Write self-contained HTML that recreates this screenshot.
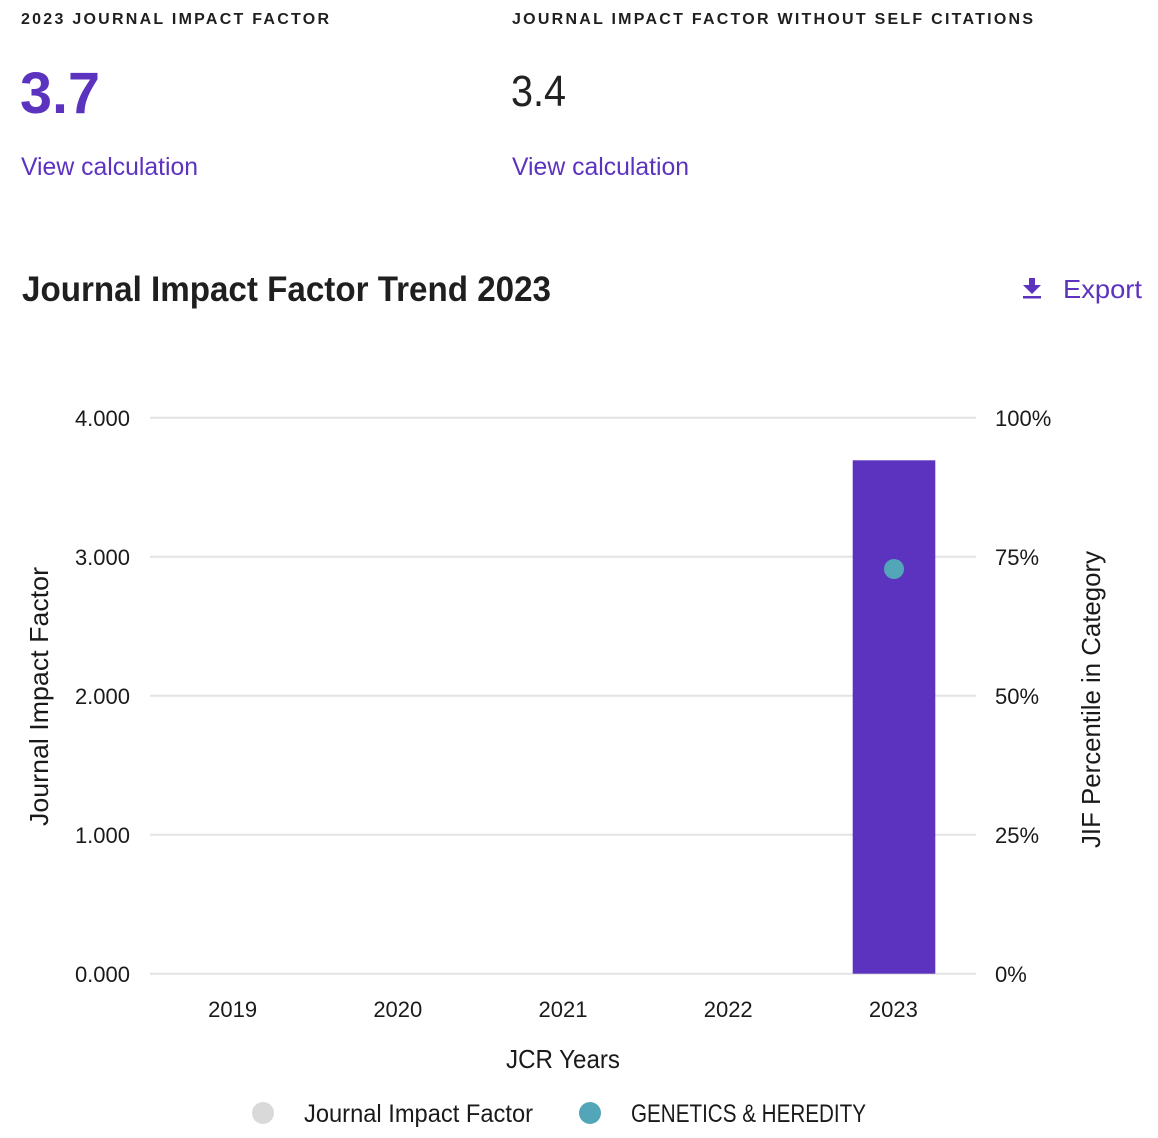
<!DOCTYPE html>
<html>
<head>
<meta charset="utf-8">
<style>
  html, body { margin: 0; padding: 0; background: #ffffff; }
  body { width: 1158px; height: 1138px; overflow: hidden; }
  svg { display: block; }
  text { font-family: "Liberation Sans", "DejaVu Sans", sans-serif; }
</style>
</head>
<body>
<svg width="1158" height="1138" viewBox="0 0 1158 1138" xmlns="http://www.w3.org/2000/svg">
  <rect x="0" y="0" width="1158" height="1138" fill="#ffffff"/>

  <!-- Header metrics -->
  <text x="21" y="24" font-size="16" font-weight="bold" fill="#1f1f1f" textLength="308" lengthAdjust="spacing">2023 JOURNAL IMPACT FACTOR</text>
  <text x="512" y="24" font-size="16" font-weight="bold" fill="#1f1f1f" textLength="521" lengthAdjust="spacing">JOURNAL IMPACT FACTOR WITHOUT SELF CITATIONS</text>

  <text x="20" y="113" font-size="58" font-weight="bold" fill="#5c33bf" textLength="80" lengthAdjust="spacingAndGlyphs">3.7</text>
  <text x="511" y="106" font-size="44" fill="#222222" textLength="55" lengthAdjust="spacingAndGlyphs">3.4</text>

  <text x="21" y="175" font-size="25" fill="#5c33bf" textLength="177" lengthAdjust="spacingAndGlyphs">View calculation</text>
  <text x="512" y="175" font-size="25" fill="#5c33bf" textLength="177" lengthAdjust="spacingAndGlyphs">View calculation</text>

  <!-- Title -->
  <text x="22" y="301" font-size="35" font-weight="bold" fill="#1f1f1f" textLength="529" lengthAdjust="spacingAndGlyphs">Journal Impact Factor Trend 2023</text>

  <!-- Export -->
  <g fill="#5c33bf">
    <rect x="1029" y="278" width="6" height="8"/>
    <polygon points="1023,285 1041,285 1032,294"/>
    <rect x="1023" y="296" width="18" height="2.5"/>
  </g>
  <text x="1063" y="298" font-size="26" fill="#5c33bf" textLength="79" lengthAdjust="spacingAndGlyphs">Export</text>

  <!-- Gridlines -->
  <g stroke="#e4e4e4" stroke-width="2">
    <line x1="150" y1="417.7" x2="976" y2="417.7"/>
    <line x1="150" y1="556.7" x2="976" y2="556.7"/>
    <line x1="150" y1="695.7" x2="976" y2="695.7"/>
    <line x1="150" y1="834.7" x2="976" y2="834.7"/>
    <line x1="150" y1="973.7" x2="976" y2="973.7"/>
  </g>

  <!-- Left tick labels -->
  <g font-size="22" fill="#1a1a1a" text-anchor="end">
    <text x="130" y="426">4.000</text>
    <text x="130" y="565">3.000</text>
    <text x="130" y="704">2.000</text>
    <text x="130" y="843">1.000</text>
    <text x="130" y="982">0.000</text>
  </g>

  <!-- Right tick labels -->
  <g font-size="22" fill="#1a1a1a" text-anchor="start">
    <text x="995" y="426">100%</text>
    <text x="995" y="565">75%</text>
    <text x="995" y="704">50%</text>
    <text x="995" y="843">25%</text>
    <text x="995" y="982">0%</text>
  </g>

  <!-- Bar -->
  <rect x="852.7" y="460.3" width="82.6" height="513.4" fill="#5c33bf"/>
  <!-- Percentile dot -->
  <circle cx="894" cy="569" r="10" fill="#52a6b8"/>

  <!-- X labels -->
  <g font-size="22" fill="#1a1a1a" text-anchor="middle">
    <text x="232.6" y="1017">2019</text>
    <text x="397.8" y="1017">2020</text>
    <text x="563" y="1017">2021</text>
    <text x="728.2" y="1017">2022</text>
    <text x="893.4" y="1017">2023</text>
  </g>
  <text x="563" y="1068" font-size="26" fill="#1a1a1a" text-anchor="middle" textLength="114" lengthAdjust="spacingAndGlyphs">JCR Years</text>

  <!-- Axis titles -->
  <text transform="translate(48,696.5) rotate(-90)" font-size="26" fill="#1a1a1a" text-anchor="middle" textLength="259" lengthAdjust="spacingAndGlyphs">Journal Impact Factor</text>
  <text transform="translate(1100,699.5) rotate(-90)" font-size="26" fill="#1a1a1a" text-anchor="middle" textLength="297" lengthAdjust="spacingAndGlyphs">JIF Percentile in Category</text>

  <!-- Legend -->
  <circle cx="263" cy="1113" r="11" fill="#d9d9d9"/>
  <text x="304" y="1122" font-size="25" fill="#1a1a1a" textLength="229" lengthAdjust="spacingAndGlyphs">Journal Impact Factor</text>
  <circle cx="590" cy="1113" r="11" fill="#52a6b8"/>
  <text x="631" y="1122" font-size="25" fill="#1a1a1a" textLength="235" lengthAdjust="spacingAndGlyphs">GENETICS &amp; HEREDITY</text>
</svg>
</body>
</html>
